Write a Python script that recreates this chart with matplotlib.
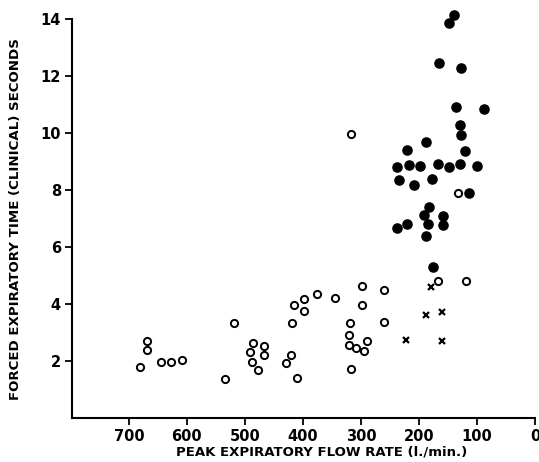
import numpy as np
import matplotlib as mpl
mpl.use('agg')
import matplotlib.pyplot as plt

# filled circles
pefr_filled = [140, 149, 165, 127, 137, 88, 130, 128, 188, 220, 120,
               238, 218, 198, 167, 149, 130, 100, 235, 209, 178, 113,
               182, 192, 159, 184, 159, 221, 238, 188, 176]
fet_filled = [14.15, 13.87, 12.46, 12.31, 10.91, 10.85, 10.30, 9.94, 9.69, 9.42, 9.39,
              8.81, 8.90, 8.84, 8.93, 8.81, 8.93, 8.85, 8.35, 8.18, 8.39, 7.89,
              7.42, 7.12, 7.10, 6.80, 6.77, 6.82, 6.66, 6.41, 5.29]

# open circles
pefr_open = [681, 668, 668, 644, 628, 609, 518, 534, 486, 467, 491, 467, 488, 477,
             416, 398, 376, 344, 398, 418, 421, 430, 410, 298, 298, 261, 261,
             319, 321, 289, 320, 309, 295, 317, 168, 119, 318, 132]
fet_open = [1.79, 2.70, 2.38, 1.96, 1.96, 2.03, 3.33, 1.37, 2.63, 2.53, 2.32, 2.20, 1.96, 1.70,
            3.98, 4.18, 4.36, 4.20, 3.76, 3.34, 2.20, 1.94, 1.39, 4.64, 3.96, 4.48, 3.37,
            3.33, 2.91, 2.72, 2.58, 2.46, 2.37, 1.71, 4.83, 4.83, 9.97, 7.89]

# crosses
pefr_cross = [180, 188, 161, 222, 160]
fet_cross = [4.61, 3.61, 3.74, 2.73, 2.69]

xticks = [700, 600, 500, 400, 300, 200, 100, 0]
yticks = [2, 4, 6, 8, 10, 12, 14]

plt.rcParams['font.family'] = 'DejaVu Sans'
plt.rcParams['font.weight'] = 'bold'

fig = plt.figure(figsize=(5.39, 4.62), dpi=100)
ax = fig.add_axes([0.1336, 0.0952, 0.8590, 0.8626])

ax.plot(pefr_filled, fet_filled, 'o', ms=6.6, mfc='black', mec='black',
        ls='none', clip_on=False)
ax.plot(pefr_open, fet_open, 'o', ms=5.2, mfc='white', mec='black', mew=1.4,
        ls='none', clip_on=False)
ax.plot(pefr_cross, fet_cross, 'x', ms=4.5, color='black', mew=1.6,
        ls='none', clip_on=False)

ax.set_xlim(798, 0)
ax.set_ylim(0, 14)
ax.set_xticks(xticks)
ax.set_yticks(yticks)
ax.tick_params(direction='out', length=5, width=1.3, labelsize=10.5, pad=3)

for side in ('top', 'right'):
    ax.spines[side].set_visible(False)
for side in ('left', 'bottom'):
    ax.spines[side].set_linewidth(1.5)

ax.set_ylabel('FORCED EXPIRATORY TIME (CLINICAL) SECONDS', fontsize=9.6,
              fontweight='bold')
ax.yaxis.set_label_coords(-0.108, 0.5)
ax.set_xlabel('PEAK EXPIRATORY FLOW RATE (l./min.)', fontsize=9.5,
              fontweight='bold')
ax.xaxis.set_label_coords(0.54, -0.068)

plt.savefig('out.png', dpi=100)
